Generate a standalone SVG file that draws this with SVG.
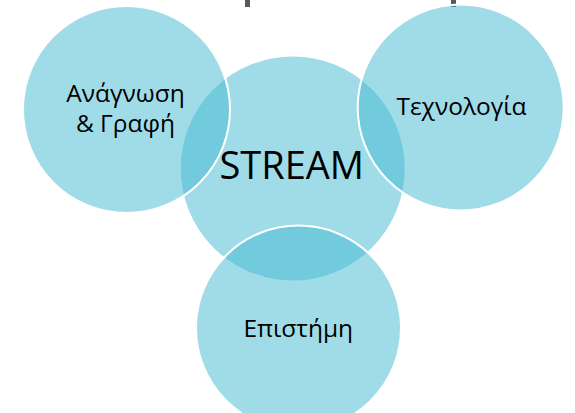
<svg xmlns="http://www.w3.org/2000/svg" width="575" height="413" viewBox="0 0 575 413">
<style>
.c{fill:#41B9D1;fill-opacity:0.5;stroke:#ffffff;stroke-width:2}
.t{font-family:"Open Sans","Noto Sans","DejaVu Sans",sans-serif;font-size:24.5px;fill:#000;text-anchor:middle}
.big{font-size:38px}
.mark{fill:#595959}
</style>
<rect width="575" height="413" fill="#ffffff"/>
<rect class="mark" x="245" y="0" width="5" height="7"/>
<rect class="mark" x="451" y="0" width="5" height="7"/>
<g id="stream">
<circle class="c" cx="292.7" cy="168.5" r="113"/>
</g>
<g id="anagnosi">
<circle class="c" cx="126.5" cy="109.5" r="103.5"/>
</g>
<g id="technologia">
<circle class="c" cx="460.7" cy="107.5" r="103"/>
</g>
<g id="epistimi">
<circle class="c" cx="298.5" cy="328" r="102.5"/>
</g>
<g id="labels">
<text class="t big" x="291.7" y="179.3">STREAM</text>
<text class="t" x="125.5" y="101.7">Ανάγνωση</text>
<text class="t" x="125.5" y="131.7">&amp; Γραφή</text>
<text class="t" x="461.5" y="115">Τεχνολογία</text>
<text class="t" x="298.3" y="336.7">Επιστήμη</text>
</g>
<g id="connectors"/>
</svg>
